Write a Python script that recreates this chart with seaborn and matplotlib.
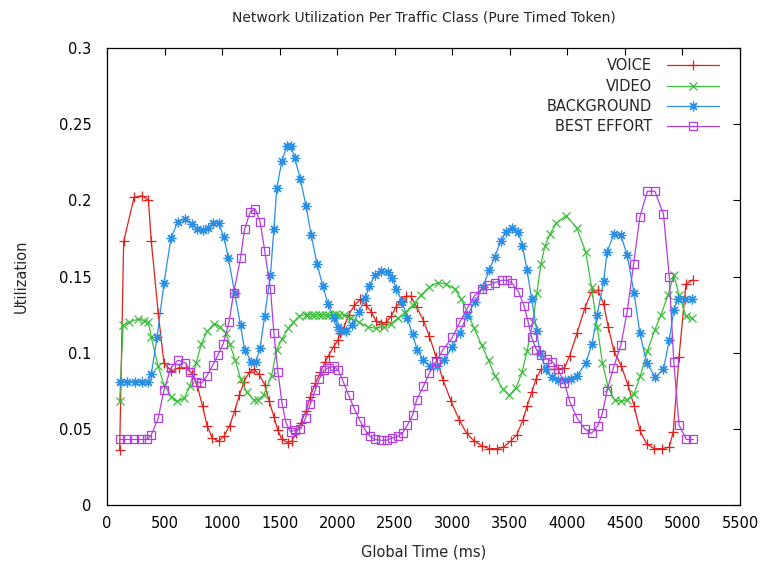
import matplotlib
matplotlib.use("Agg")
import matplotlib.pyplot as plt
import seaborn as sns
from matplotlib.ticker import MultipleLocator, FuncFormatter

# Data (time in ms, utilization)
voice_t = [110, 145, 235, 305, 360, 385, 445, 495, 560, 625, 690, 740, 785, 830, 870, 915, 970, 1015, 1065, 1110,
           1150, 1190, 1235, 1275, 1320, 1370, 1410, 1450, 1485, 1520, 1570, 1605, 1640, 1685, 1730, 1765, 1810, 1855,
           1895, 1925, 1970, 2005, 2025, 2055, 2100, 2150, 2200, 2250, 2295, 2335, 2385, 2425, 2470, 2510, 2555, 2600,
           2640, 2690, 2750, 2800, 2860, 2920, 2990, 3060, 3125, 3190, 3255, 3320, 3385, 3445, 3510, 3560, 3615, 3650,
           3690, 3730, 3770, 3820, 3880, 3920, 3975, 4020, 4085, 4150, 4210, 4265, 4315, 4355, 4405, 4470, 4525, 4580,
           4630, 4690, 4755, 4825, 4885, 4920, 4970, 5030, 5095]
voice_u = [0.036, 0.173, 0.202, 0.203, 0.200, 0.173, 0.126, 0.093, 0.088, 0.090, 0.090, 0.086, 0.078, 0.065, 0.052,
           0.044, 0.042, 0.045, 0.052, 0.062, 0.072, 0.081, 0.087, 0.089, 0.086, 0.079, 0.068, 0.058, 0.049, 0.043,
           0.041, 0.042, 0.047, 0.054, 0.062, 0.071, 0.080, 0.087, 0.094, 0.098, 0.104, 0.108, 0.113, 0.116, 0.125,
           0.131, 0.135, 0.131, 0.127, 0.121, 0.119, 0.120, 0.124, 0.130, 0.134, 0.137, 0.137, 0.130, 0.121, 0.111,
           0.097, 0.082, 0.068, 0.056, 0.047, 0.042, 0.039, 0.037, 0.037, 0.038, 0.042, 0.046, 0.056, 0.065, 0.074,
           0.083, 0.089, 0.089, 0.089, 0.089, 0.090, 0.098, 0.113, 0.129, 0.140, 0.141, 0.132, 0.117, 0.101, 0.091,
           0.079, 0.065, 0.049, 0.040, 0.037, 0.037, 0.038, 0.048, 0.097, 0.145, 0.148]

video_t = [110, 140, 195, 270, 325, 360, 385, 445, 495, 560, 610, 670, 720, 775, 820, 870, 930, 980, 1030, 1065,
           1115, 1160, 1215, 1275, 1310, 1360, 1430, 1475, 1520, 1575, 1620, 1670, 1725, 1750, 1780, 1810, 1840, 1870,
           1900, 1930, 1960, 1990, 2020, 2060, 2120, 2190, 2265, 2335, 2410, 2470, 2525, 2585, 2655, 2730, 2800, 2875,
           2945, 3020, 3080, 3140, 3190, 3255, 3315, 3370, 3440, 3495, 3555, 3605, 3650, 3700, 3735, 3770, 3805, 3850,
           3905, 3990, 4080, 4160, 4210, 4260, 4305, 4355, 4410, 4470, 4515, 4580, 4635, 4695, 4760, 4815, 4875, 4925,
           4970, 5030, 5085]
video_u = [0.068, 0.118, 0.120, 0.122, 0.121, 0.120, 0.110, 0.091, 0.079, 0.071, 0.068, 0.070, 0.078, 0.093, 0.106,
           0.114, 0.119, 0.117, 0.113, 0.106, 0.095, 0.083, 0.074, 0.069, 0.069, 0.072, 0.085, 0.102, 0.109, 0.116,
           0.120, 0.124, 0.125, 0.125, 0.125, 0.125, 0.125, 0.125, 0.125, 0.125, 0.125, 0.1255, 0.125, 0.1247, 0.1225,
           0.120, 0.117, 0.116, 0.117, 0.119, 0.1225, 0.126, 0.131, 0.138, 0.143, 0.146, 0.145, 0.142, 0.135, 0.125,
           0.116, 0.105, 0.095, 0.085, 0.076, 0.072, 0.077, 0.087, 0.101, 0.120, 0.139, 0.158, 0.170, 0.178, 0.185,
           0.190, 0.182, 0.166, 0.143, 0.117, 0.093, 0.077, 0.069, 0.068, 0.069, 0.073, 0.085, 0.101, 0.115, 0.125,
           0.138, 0.151, 0.138, 0.124, 0.1225]

bg_t = [110, 170, 240, 300, 355, 385, 435, 495, 555, 615, 680, 735, 785, 835, 880, 920, 970, 1015, 1055, 1110,
        1160, 1195, 1255, 1295, 1330, 1370, 1420, 1450, 1475, 1520, 1565, 1600, 1630, 1680, 1730, 1775, 1825, 1875,
        1920, 1970, 2010, 2035, 2075, 2130, 2190, 2245, 2280, 2330, 2380, 2440, 2480, 2515, 2565, 2610, 2655, 2695,
        2750, 2805, 2865, 2930, 3000, 3065, 3125, 3195, 3265, 3320, 3370, 3420, 3465, 3515, 3575, 3610, 3650, 3690,
        3735, 3760, 3815, 3865, 3915, 3980, 4035, 4085, 4160, 4215, 4260, 4315, 4345, 4405, 4465, 4520, 4580, 4630,
        4690, 4765, 4835, 4885, 4925, 4960, 5020, 5085]
bg_u = [0.081, 0.081, 0.081, 0.081, 0.081, 0.086, 0.110, 0.1455, 0.175, 0.186, 0.188, 0.1845, 0.1815, 0.1805, 0.182,
        0.185, 0.185, 0.176, 0.162, 0.139, 0.118, 0.102, 0.094, 0.094, 0.103, 0.124, 0.151, 0.181, 0.208, 0.226,
        0.236, 0.236, 0.228, 0.214, 0.196, 0.177, 0.158, 0.144, 0.132, 0.123, 0.117, 0.114, 0.114, 0.118, 0.127,
        0.136, 0.144, 0.151, 0.1535, 0.153, 0.149, 0.142, 0.133, 0.1225, 0.112, 0.102, 0.095, 0.091, 0.091, 0.095,
        0.104, 0.113, 0.124, 0.133, 0.143, 0.154, 0.163, 0.173, 0.179, 0.182, 0.179, 0.170, 0.154, 0.135, 0.114,
        0.100, 0.089, 0.084, 0.082, 0.082, 0.083, 0.085, 0.093, 0.106, 0.125, 0.147, 0.166, 0.178, 0.177, 0.164,
        0.139, 0.113, 0.093, 0.084, 0.089, 0.108, 0.128, 0.135, 0.135, 0.135]

be_t = [110, 170, 235, 295, 350, 385, 445, 495, 555, 615, 680, 725, 775, 820, 870, 920, 965, 1010, 1060, 1100,
        1160, 1195, 1245, 1290, 1330, 1370, 1420, 1450, 1485, 1520, 1555, 1595, 1630, 1680, 1725, 1765, 1810, 1845,
        1885, 1925, 1970, 2010, 2050, 2100, 2150, 2200, 2245, 2285, 2330, 2380, 2430, 2480, 2525, 2570, 2610, 2655,
        2690, 2750, 2800, 2860, 2920, 3000, 3065, 3130, 3190, 3255, 3315, 3370, 3430, 3475, 3515, 3575, 3625, 3660,
        3690, 3730, 3770, 3820, 3870, 3920, 3975, 4020, 4085, 4150, 4210, 4265, 4305, 4345, 4400, 4465, 4520, 4575,
        4630, 4695, 4760, 4835, 4885, 4925, 4970, 5035, 5095]
be_u = [0.043, 0.043, 0.043, 0.043, 0.043, 0.046, 0.057, 0.0755, 0.090, 0.095, 0.0935, 0.0875, 0.081, 0.080, 0.085,
        0.092, 0.0985, 0.106, 0.120, 0.139, 0.162, 0.181, 0.1925, 0.194, 0.186, 0.167, 0.142, 0.113, 0.0875, 0.067,
        0.054, 0.048, 0.049, 0.050, 0.057, 0.066, 0.0755, 0.083, 0.0885, 0.090, 0.091, 0.0885, 0.0815, 0.072, 0.063,
        0.055, 0.049, 0.045, 0.043, 0.0425, 0.0425, 0.044, 0.045, 0.0475, 0.0525, 0.059, 0.069, 0.078, 0.0865, 0.094,
        0.102, 0.110, 0.120, 0.129, 0.137, 0.1415, 0.1445, 0.146, 0.1475, 0.1475, 0.146, 0.140, 0.1305, 0.120, 0.110,
        0.102, 0.0985, 0.096, 0.094, 0.089, 0.080, 0.068, 0.057, 0.050, 0.047, 0.052, 0.0605, 0.075, 0.090, 0.105,
        0.127, 0.158, 0.189, 0.206, 0.206, 0.191, 0.150, 0.094, 0.0525, 0.043, 0.043]

sns.set_theme(style="white")
plt.rcParams["font.family"] = ["DejaVu Sans"]
plt.rcParams["font.size"] = 10

fig = plt.figure(figsize=(7.61, 5.65), dpi=100)
ax = fig.add_axes([0.1406, 0.1062, 0.8318, 0.8088])

series = [
    ("VOICE", voice_t, voice_u, "#e3201c", "+", 7, "#e3201c"),
    ("VIDEO", video_t, video_u, "#3cbf3c", "x", 6, "#3cbf3c"),
    ("BACKGROUND", bg_t, bg_u, "#2a8fe6", (8, 2, 0), 7, "#2a8fe6"),
    ("BEST EFFORT", be_t, be_u, "#b13ee0", "s", 6, "none"),
]

for name, t, u, col, mk, ms, fc in series:
    sns.lineplot(x=t, y=u, ax=ax, color=col, label=name, marker=mk, markersize=ms,
                 markerfacecolor=fc, markeredgecolor=col, markeredgewidth=0.9,
                 linewidth=0.9, estimator=None, sort=False)

ax.set_xlim(0, 5500)
ax.set_ylim(0, 0.3)
ax.xaxis.set_major_locator(MultipleLocator(500))
ax.yaxis.set_major_locator(MultipleLocator(0.05))
ax.yaxis.set_major_formatter(FuncFormatter(lambda v, p: "%g" % round(v, 3)))
ax.tick_params(direction="in", length=5, width=0.8, top=True, right=True,
               labelsize=10.5, colors="black")
ax.tick_params(axis="x", pad=8)
ax.tick_params(axis="y", pad=11)
for s in ax.spines.values():
    s.set_color("black")
    s.set_linewidth(0.9)

ax.set_title("Network Utilization Per Traffic Class (Pure Timed Token)", fontsize=10, pad=19)
ax.set_xlabel("Global Time (ms)", fontsize=10.5, labelpad=10)
ax.set_ylabel("Utilization", fontsize=10.5, labelpad=22)

leg = ax.legend(loc="upper right", bbox_to_anchor=(0.988, 1.006), markerfirst=False, frameon=False,
                handlelength=3.6, numpoints=1, labelspacing=0.36, fontsize=10.5, handletextpad=1.0)

fig.savefig("out.png", dpi=100)
